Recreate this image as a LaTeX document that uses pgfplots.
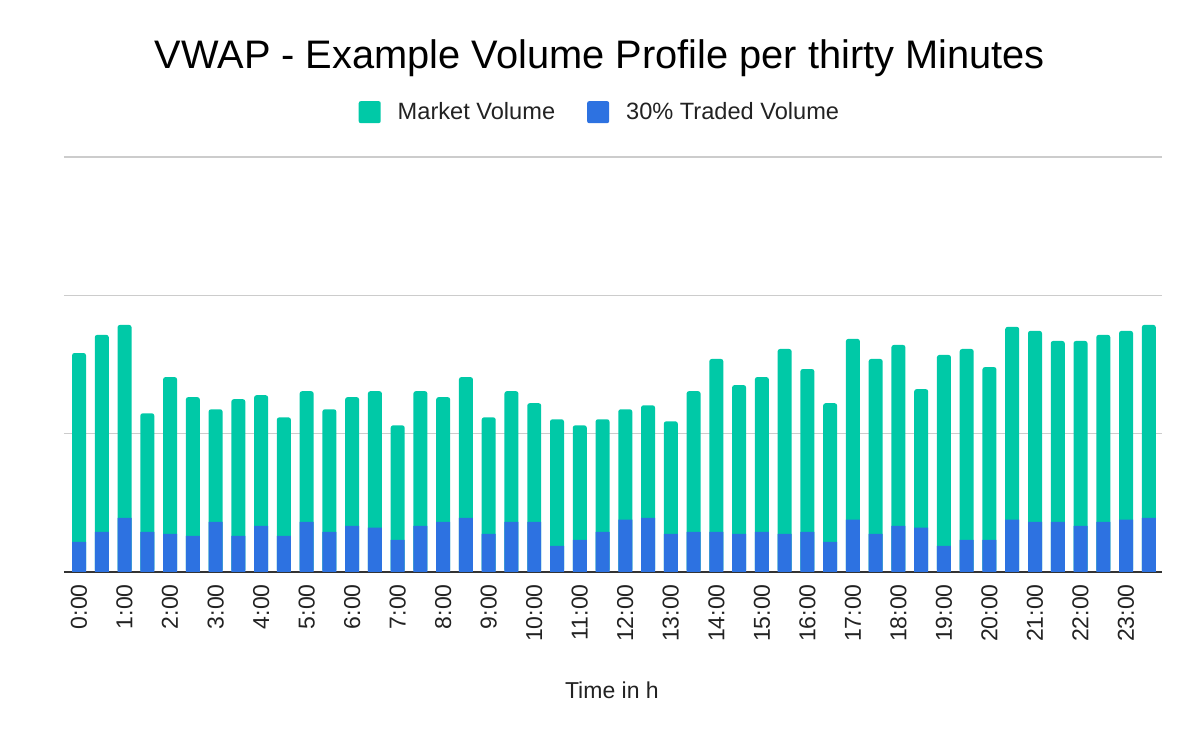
\documentclass[border=0pt]{standalone}
\usepackage{fontspec}
\setmainfont{Liberation Sans}
\usepackage{pgfplots}
\pgfplotsset{compat=1.18}
\usepackage{pgfplotstable}
\definecolor{mktgreen}{HTML}{00C9A7}
\definecolor{trdblue}{HTML}{2D72E1}
\definecolor{gridgray}{HTML}{CCCCCC}
\definecolor{axisdark}{HTML}{333333}
\definecolor{txt}{HTML}{222222}

\pgfplotstableread{
x market traded
0 158.3 21.8
1 171.4 29.0
2 178.6 39.2
3 114.7 29.0
4 140.9 27.6
5 126.4 26.1
6 117.6 36.3
7 124.9 26.1
8 127.8 33.4
9 111.8 26.1
10 130.7 36.3
11 117.6 29.0
12 126.4 33.4
13 130.7 32.0
14 106.0 23.2
15 130.7 33.4
16 126.4 36.3
17 140.9 39.2
18 111.8 27.6
19 130.7 36.3
20 122.0 36.3
21 110.4 18.9
22 106.0 23.2
23 110.4 29.0
24 117.6 37.8
25 120.5 39.2
26 108.9 27.6
27 130.7 29.0
28 154.0 29.0
29 135.1 27.6
30 140.9 29.0
31 161.2 27.6
32 146.7 29.0
33 122.0 21.8
34 168.5 37.8
35 154.0 27.6
36 164.1 33.4
37 132.2 32.0
38 156.9 18.9
39 161.2 23.2
40 148.1 23.2
41 177.2 37.8
42 174.3 36.3
43 167.0 36.3
44 167.0 33.4
45 171.4 36.3
46 174.3 37.8
47 178.6 39.2
}\datatable

\begin{document}
\begin{tikzpicture}
\path[use as bounding box] (0,0) rectangle (600pt,371pt);
\begin{axis}[
  at={(32pt,85pt)}, anchor=south west,
  scale only axis,
  width=549pt, height=207.5pt,
  xmin=-0.66, xmax=47.58,
  ymin=0, ymax=300,
  axis line style={draw=none},
  major tick length=0pt,
  ytick={100,200,300},
  yticklabels={},
  extra y ticks={0},
  extra y tick labels={},
  extra y tick style={grid=major, major grid style={color=axisdark, line width=1pt}},
  ymajorgrids,
  major grid style={color=gridgray, line width=0.75pt},
  xtick={0,2,...,46},
  xticklabels={0:00,1:00,2:00,3:00,4:00,5:00,6:00,7:00,8:00,9:00,10:00,11:00,12:00,13:00,14:00,15:00,16:00,17:00,18:00,19:00,20:00,21:00,22:00,23:00},
  xticklabel style={rotate=90, anchor=east, inner sep=0pt, font=\fontsize{11.5}{12}\selectfont, text=txt},
  xticklabel shift=6pt,
  xlabel={Time in h},
  xlabel style={at={(axis description cs:0.499,-0.284)}, anchor=center, font=\fontsize{11.5}{12}\selectfont, text=txt},
  title={VWAP - Example Volume Profile per thirty Minutes},
  title style={at={(axis description cs:0.488,1.21)}, anchor=center, font=\fontsize{19.9}{22}\selectfont, text=black},
  legend columns=2,
  legend style={at={(axis description cs:0.489,1.108)}, anchor=center, draw=none, fill=none,
    font=\fontsize{11.8}{13}\selectfont, text=txt,
    /tikz/every odd column/.append style={column sep=6.5pt},
    /tikz/every even column/.append style={column sep=14pt}},
  ybar, bar width=0.615, bar shift=0pt,
  clip=false,
]
\addplot[fill=mktgreen, draw=none, rounded corners=1.2pt,
  legend image code/.code={\fill[mktgreen, rounded corners=1pt] (0pt,-5.5pt) rectangle (11pt,5.5pt);}]
  table[x=x, y=market] {\datatable};
\addlegendentry{Market Volume}
\addplot[fill=trdblue, draw=none,
  legend image code/.code={\fill[trdblue, rounded corners=1pt] (0pt,-5.5pt) rectangle (11pt,5.5pt);}]
  table[x=x, y=traded] {\datatable};
\addlegendentry{30\% Traded Volume}
\end{axis}
\end{tikzpicture}
\end{document}
